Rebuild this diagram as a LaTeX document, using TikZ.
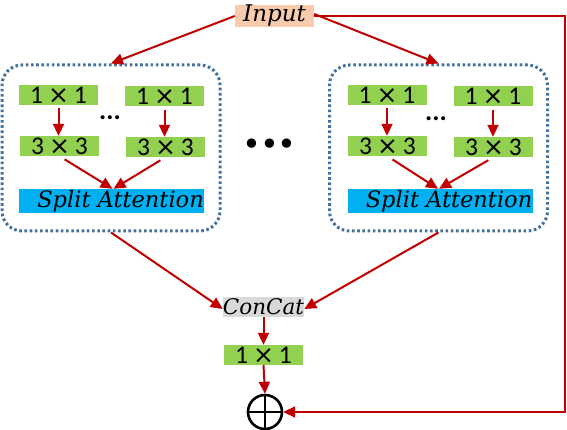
\documentclass[tikz,border=0pt]{standalone}
\usepackage{fontspec}
\setmainfont{Carlito}
\newfontfamily\itf{DejaVu Serif}[ItalicFont={DejaVu Serif Italic}]
\newfontfamily\bulf{DejaVu Sans}
\usetikzlibrary{arrows.meta}
\definecolor{cgreen}{HTML}{92D050}
\definecolor{cblue}{HTML}{00B0F0}
\definecolor{cpeach}{HTML}{F8CBAD}
\definecolor{cgrey}{HTML}{D9D9D9}
\definecolor{cred}{HTML}{C00000}
\definecolor{cdot}{HTML}{41719C}
\newcommand{\kxk}[1]{#1\hspace{5pt}{\bulf\fontsize{25}{25}\selectfont ×}\hspace{5pt}#1}
\tikzset{
  conv/.style={fill=cgreen, minimum width=79pt, minimum height=20pt, inner sep=0pt, font=\fontsize{25.5}{25.5}\selectfont},
  sa/.style={fill=cblue, minimum width=185pt, minimum height=24pt, inner sep=0pt, font=\itf\itshape\fontsize{22.5}{22.5}\selectfont},
  grp/.style={draw=cdot, line width=3pt, dash pattern=on 2.6pt off 2.6pt, rounded corners=20pt, minimum width=218pt, minimum height=166pt, inner sep=0pt},
  arr/.style={draw=cred, line width=2pt, -{Triangle[length=12pt,width=11pt]}},
  smalldots/.style={font=\bfseries\fontsize{27}{27}\selectfont, inner sep=0pt},
}
\begin{document}
\begin{tikzpicture}[x=1pt,y=-1pt]
\useasboundingbox (0,0) rectangle (567,430);
% input
\node[fill=cpeach, minimum width=79pt, minimum height=20pt, inner sep=0pt, font=\itf\itshape\fontsize{23}{23}\selectfont] (in) at (274.5,16) {Input};
% left group
\node[grp] (g1) at (111,148) {};
\node[conv] (a1) at (58.5,95) {\kxk{1}};
\node[conv] (a2) at (164.5,96) {\kxk{1}};
\node[conv] (b1) at (59.5,146) {\kxk{3}};
\node[conv] (b2) at (165.5,147) {\kxk{3}};
\node[sa] (s1) at (111.5,201) {\hspace{18pt}Split Attention};
\node[smalldots] (d1) at (110,118) {...};
% right group
\node[grp] (g2) at (438.5,148) {};
\node[conv] (c1) at (387,95) {\kxk{1}};
\node[conv] (c2) at (493,96) {\kxk{1}};
\node[conv] (e1) at (387.5,146) {\kxk{3}};
\node[conv] (e2) at (493.5,147) {\kxk{3}};
\node[sa] (s2) at (440,201) {\hspace{18pt}Split Attention};
\node[smalldots] (d2) at (436,119) {...};
% big dots
\node[font=\bulf\fontsize{32}{32}\selectfont, inner sep=0pt] (bd) at (269.5,147) {•\kern-1pt•\kern-1pt•};
% concat
\node[fill=cgrey, minimum width=79pt, minimum height=20pt, inner sep=0pt, font=\itf\itshape\fontsize{21.5}{21.5}\selectfont] (cc) at (263.5,307) {ConCat};
\node[conv] (f) at (263.5,355) {\kxk{1}};
\draw[line width=2.6pt] (265,412) circle (17pt);
\node[circle, minimum size=36pt, inner sep=0pt] (add) at (265,412) {};
\draw[line width=2.6pt] (add.north) -- (add.south) (add.west) -- (add.east);
% arrows
\draw[arr] (in.west) -- (g1.north);
\draw[arr] ([yshift=2pt]in.east) -- (g2.north);
\draw[arr, shorten <=3pt] (a1.south) -- (b1.north -| a1.south);
\draw[arr, shorten <=4pt] (a2.south) -- (b2.north -| a2.south);
\draw[arr, shorten <=3pt] (c1.south) -- (e1.north -| c1.south);
\draw[arr, shorten <=4pt] (c2.south) -- (e2.north -| c2.south);
\draw[arr, shorten <=6pt] (b1.south) -- ([xshift=1pt]s1.north);
\draw[arr, shorten <=6pt] (b2.south) -- ([xshift=2pt]s1.north);
\draw[arr, shorten <=6pt] (e1.south) -- ([xshift=-2pt]s2.north);
\draw[arr, shorten <=6pt] (e2.south) -- ([xshift=-1pt]s2.north);
\draw[arr] (g1.south) -- ([yshift=-2pt]cc.west);
\draw[arr] (g2.south) -- ([yshift=-2pt]cc.east);
\draw[arr] (cc.south) -- (f.north);
\draw[arr] (f.south) -- (add.north);
\coordinate (tr) at (565,16);
\draw[arr] (in.east) -- (tr) |- (add.east);
\end{tikzpicture}
\end{document}
